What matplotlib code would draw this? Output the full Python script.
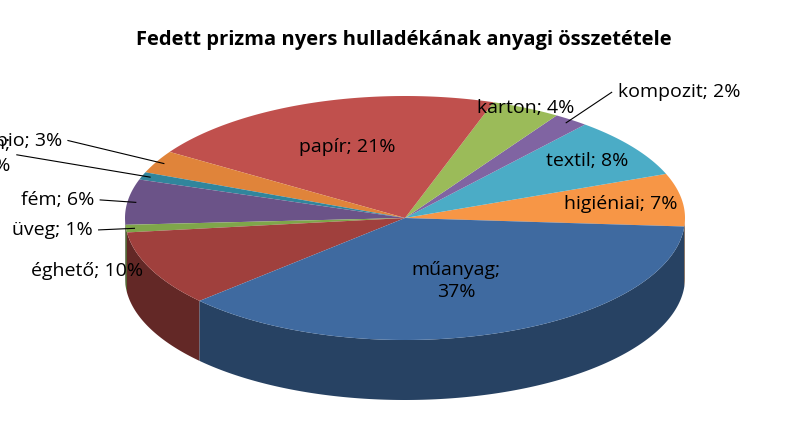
import numpy as np
import matplotlib.pyplot as plt
from matplotlib.patches import Polygon
from matplotlib.colors import to_rgb

labels = ["higiéniai; 7%", "textil; 8%", "kompozit; 2%", "karton; 4%", "papír; 21%",
          "bio; 3%", "éghetetlen;\n1%", "fém; 6%", "üveg; 1%", "éghető; 10%", "műanyag;\n37%"]
values = [7, 8, 2, 4, 21, 3, 1, 6, 1, 10, 37]
colors = ["#F79646", "#4BACC6", "#8064A2", "#9BBB59", "#C0504D", "#E0843A",
          "#31859C", "#6B5388", "#7FA64A", "#A0403D", "#3F6AA0"]
# label distance (fraction of radius) and whether a leader line is drawn
label_r = [0.78, 0.80, 1.28, 1.0, 0.62, 1.38, 1.5, 1.12, 1.12, 1.03, 0.55]
leader = [False, False, True, False, False, True, True, True, True, False, False]

W, H = 807, 437
cx, cy, rx, ry, depth = 405, 218, 280, 122, 60
start = -4.0

fig = plt.figure(figsize=(W / 100, H / 100), dpi=100)
ax = fig.add_axes([0, 0, 1, 1])
ax.set_xlim(0, W)
ax.set_ylim(H, 0)
ax.axis("off")


def pt(th, r=1.0, dy=0.0):
    return cx + r * rx * np.cos(th), cy - r * ry * np.sin(th) + dy


def darker(c, f):
    return tuple(np.array(to_rgb(c)) * f)


bounds = start + 360 * np.concatenate([[0], np.cumsum(values)]) / sum(values)
for i, c in enumerate(colors):
    a0, a1 = np.radians(bounds[i]), np.radians(bounds[i + 1])
    th = np.linspace(a0, a1, 200)
    th = th[np.sin(th) <= 0.001]
    if len(th) < 2:
        continue
    top = np.column_stack(pt(th))
    bot = np.column_stack(pt(th[::-1], dy=depth))
    ax.add_patch(Polygon(np.vstack([top, bot]), closed=True,
                         facecolor=darker(c, 0.62), edgecolor="none"))
for i, c in enumerate(colors):
    a0, a1 = np.radians(bounds[i]), np.radians(bounds[i + 1])
    th = np.linspace(a0, a1, 200)
    arc = np.column_stack(pt(th))
    ax.add_patch(Polygon(np.vstack([[cx, cy], arc]), closed=True,
                         facecolor=c, edgecolor="none"))

for i, lab in enumerate(labels):
    mid = np.radians((bounds[i] + bounds[i + 1]) / 2)
    x, y = pt(mid, label_r[i])
    ha = "center"
    if label_r[i] > 1.0:
        ha = "right" if x < cx else "left"
    if leader[i]:
        ex, ey = pt(mid, 0.97)
        ax.plot([x + (6 if x < cx else -6), ex], [y, ey], color="black", lw=0.8)
    ax.text(x, y, lab, ha=ha, va="center", fontsize=14, family="Open Sans",
            linespacing=1.3)

ax.text(W / 2, 40, "Fedett prizma nyers hulladékának anyagi összetétele",
        ha="center", va="center", fontsize=14.5, fontweight="bold", family="Open Sans")

fig.savefig("out.png", dpi=100)
